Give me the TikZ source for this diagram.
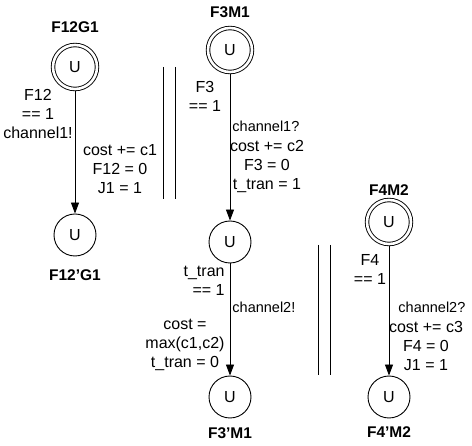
\documentclass[tikz,border=0pt]{standalone}
\usepackage{fontspec}
\setmainfont{Liberation Sans}
\usetikzlibrary{arrows.meta,positioning}

\begin{document}
\begin{tikzpicture}[x=1pt, y=-1pt, >={Triangle[length=11pt,width=8pt]},
  font=\fontsize{16}{19}\selectfont, line width=0.9pt,
  loc/.style={circle, draw, minimum size=42pt, inner sep=0pt},
  startloc/.style={loc, double, double distance=2.6pt, minimum size=44pt, outer sep=2.3pt},
  title/.style={font=\fontsize{15.5}{19}\selectfont\bfseries, inner sep=0pt},
  guard/.style={align=center, inner sep=0pt},
  sync/.style={font=\fontsize{14.5}{17}\selectfont, inner sep=0pt, anchor=west}]
  \useasboundingbox (0,0) rectangle (472,446);

  % first automaton
  \node[startloc] (f12g1) at (75,67) {U};
  \node[loc] (f12pg1) at (75,235) {U};
  \node[title] (f12g1t) at (75,27) {F12G1};
  \node[title] (f12pg1t) at (75,275) {F12'G1};
  \draw[->] (f12g1) -- (f12pg1);
  \node[guard] (g12) at (38,114) {F12\\== 1\\channel1!};
  \node[guard] (u12) at (120,169) {cost += c1\\F12 = 0\\J1 = 1};

  \draw (163,67) -- (163,199);
  \draw (175,67) -- (175,199);

  % second automaton
  \node[startloc] (f3m1) at (230,50) {U};
  \node[loc] (f3mid) at (230,242) {U};
  \node[loc] (f3pm1) at (230,397) {U};
  \node[title] (f3m1t) at (230,12) {F3M1};
  \node[title] (f3pm1t) at (230,433) {F3'M1};
  \draw[->] (f3m1) -- (f3mid);
  \draw[->] (f3mid) -- (f3pm1);
  \node[guard] (g3) at (205,96) {F3\\== 1};
  \node[sync] (s1r) at (232,126) {channel1?};
  \node[guard] (u3) at (267,167) {cost += c2\\F3 = 0\\t\_tran = 1};
  \node[guard, align=right, anchor=east] (gt) at (225,281) {t\_tran\\== 1};
  \node[sync] (s2s) at (232,307) {channel2!};
  \node[guard] (ut) at (185,345) {cost =\\max(c1,c2)\\t\_tran = 0};

  \draw (318,245) -- (318,375);
  \draw (330,245) -- (330,375);

  % third automaton
  \node[startloc] (f4m2) at (389,222) {U};
  \node[loc] (f4pm2) at (389,397) {U};
  \node[title] (f4m2t) at (389,190) {F4M2};
  \node[title] (f4pm2t) at (389,432) {F4'M2};
  \draw[->] (f4m2) -- (f4pm2);
  \node[guard] (g4) at (370,269) {F4\\== 1};
  \node[sync] (s2r) at (398,307) {channel2?};
  \node[guard] (u4) at (426,346) {cost += c3\\F4 = 0\\J1 = 1};
\end{tikzpicture}
\end{document}
